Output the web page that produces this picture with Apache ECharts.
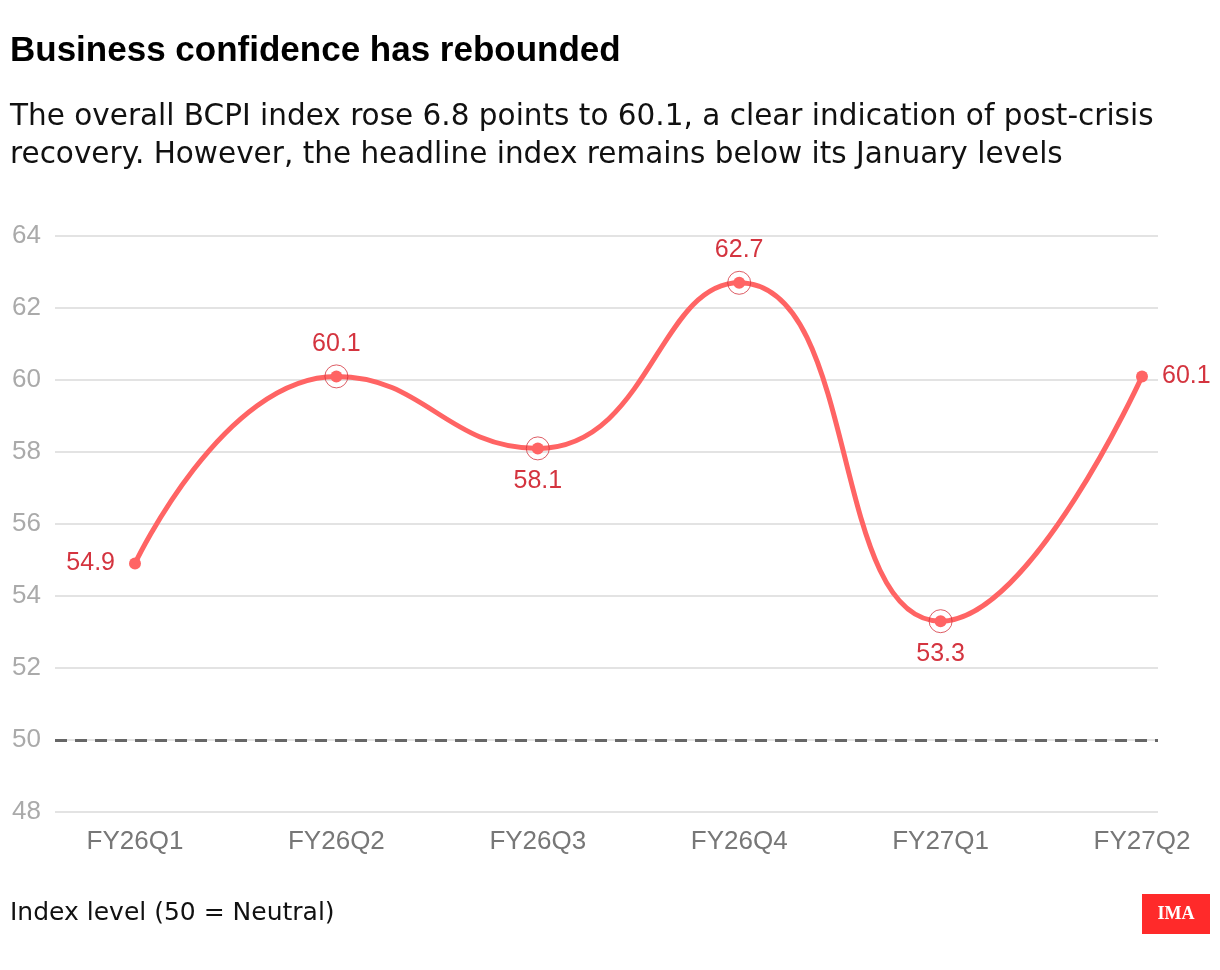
<!DOCTYPE html>
<html>
<head>
<meta charset="utf-8">
<script src="https://cdn.jsdelivr.net/npm/echarts@6/dist/echarts.min.js"></script>
<style>
  html, body { margin: 0; padding: 0; background: #fff; }
  #chart { width: 1220px; height: 970px; }
</style>
</head>
<body>
<div id="chart"></div>
<script>
const quarters = ['FY26Q1', 'FY26Q2', 'FY26Q3', 'FY26Q4', 'FY27Q1', 'FY27Q2'];
const bcpi = [54.9, 60.1, 58.1, 62.7, 53.3, 60.1];
const labelSide = ['left', 'top', 'bottom', 'top', 'bottom', 'right'];
const ringed = [false, true, true, true, true, false];
const neutralLevel = 50;

const lineRed = '#ff6464';
const labelRed = '#d4343f';
const font = '"Liberation Sans", Arial, sans-serif';
const wideFont = '"DejaVu Sans", "Liberation Sans", sans-serif';

const chart = echarts.init(document.getElementById('chart'));

const option = {
  backgroundColor: '#fff',
  animation: false,
  title: [
    {
      text: 'Business confidence has rebounded',
      left: 5, top: 29,
      textStyle: { fontFamily: font, fontWeight: 'bold', fontSize: 35, color: '#000' }
    },
    {
      text: 'The overall BCPI index rose 6.8 points to 60.1, a clear indication of post-crisis\nrecovery. However, the headline index remains below its January levels',
      left: 5, top: 93,
      textStyle: { fontFamily: wideFont, fontWeight: 'normal', fontSize: 29.5, lineHeight: 38, color: '#111' }
    },
    {
      text: 'Index level (50 = Neutral)',
      left: 5, top: 896,
      textStyle: { fontFamily: wideFont, fontWeight: 'normal', fontSize: 25, color: '#111' }
    }
  ],
  grid: [
    { left: 55, right: 62, top: 236, bottom: 158 },
    { left: 135, right: 78, top: 236, bottom: 158 }
  ],
  xAxis: [
    { type: 'category', gridIndex: 0, data: quarters, show: false },
    {
      type: 'category', gridIndex: 1, data: quarters, boundaryGap: false,
      axisLine: { show: false }, axisTick: { show: false },
      axisLabel: { color: '#777', fontSize: 26, fontFamily: font, margin: 17 }
    }
  ],
  yAxis: [
    {
      type: 'value', gridIndex: 0, min: 48, max: 64, interval: 2,
      axisLine: { show: false }, axisTick: { show: false },
      axisLabel: { color: '#aaa', fontSize: 26, fontFamily: font, margin: 14 },
      splitLine: { lineStyle: { color: '#e3e3e3', width: 2 } }
    },
    {
      type: 'value', gridIndex: 1, min: 48, max: 64, interval: 2,
      show: false, splitLine: { show: false }
    }
  ],
  series: [
    {
      type: 'line', xAxisIndex: 0, yAxisIndex: 0,
      data: [], silent: true,
      markLine: {
        silent: true, symbol: 'none', label: { show: false },
        lineStyle: { color: '#666', width: 3, type: [12, 8] },
        data: [{ yAxis: neutralLevel }]
      }
    },
    {
      type: 'line', xAxisIndex: 1, yAxisIndex: 1,
      smooth: 0.5,
      data: bcpi.map((v, i) => ({
        value: v,
        label: { position: labelSide[i] }
      })),
      symbol: 'circle', symbolSize: 12,
      itemStyle: { color: lineRed },
      lineStyle: { color: lineRed, width: 5 },
      label: {
        show: true, color: labelRed, fontSize: 25, fontFamily: font,
        distance: 14,
        formatter: p => p.value.toFixed(1)
      },
      z: 3
    },
    {
      type: 'scatter', xAxisIndex: 1, yAxisIndex: 1,
      data: bcpi.map((v, i) => (ringed[i] ? v : null)),
      symbol: 'circle', symbolSize: 23,
      itemStyle: { color: 'rgba(0,0,0,0)', borderColor: labelRed, borderWidth: 1 },
      silent: true, z: 4
    }
  ],
  graphic: [
    {
      type: 'group', left: 1142, top: 894,
      children: [
        { type: 'rect', shape: { x: 0, y: 0, width: 68, height: 40 }, style: { fill: '#ff2a2a' } },
        {
          type: 'text', x: 34, y: 20,
          style: { text: 'IMA', fill: '#fff', font: 'bold 18px "Liberation Serif", "DejaVu Serif", serif', align: 'center', verticalAlign: 'middle' }
        }
      ]
    }
  ]
};

chart.setOption(option);
</script>
</body>
</html>
